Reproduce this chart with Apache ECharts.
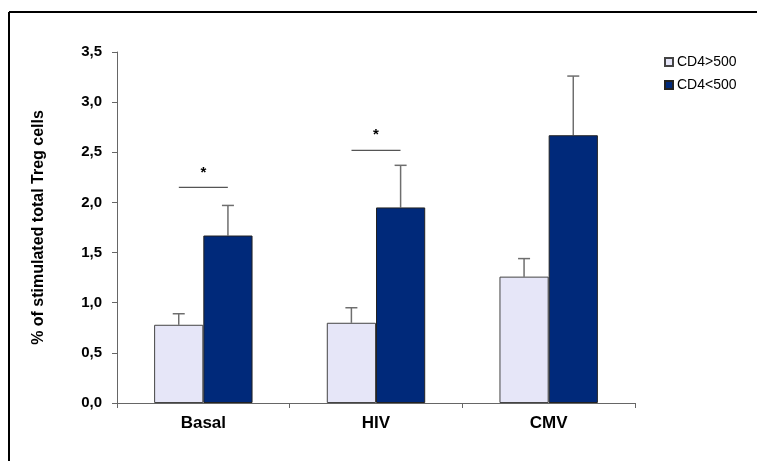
<!DOCTYPE html>
<html>
<head>
<meta charset="utf-8">
<script src="https://cdn.jsdelivr.net/npm/echarts@6/dist/echarts.min.js"></script>
<style>html,body{margin:0;padding:0;background:#fff}#c{width:757px;height:461px}</style>
</head>
<body>
<div id="c"></div>
<script>
const categories = ['Basal', 'HIV', 'CMV'];
const seriesNames = ['CD4>500', 'CD4<500'];
const highValues = [0.78, 0.80, 1.26];      // CD4>500
const highErrTop = [0.89, 0.95, 1.44];
const lowValues = [1.67, 1.95, 2.67];       // CD4<500
const lowErrTop = [1.97, 2.37, 3.26];
const sigCategories = [0, 1];
const sigLevels = [2.15, 2.52];
const sigLabels = ['*', '*'];
const yTicks = [0, 0.5, 1, 1.5, 2, 2.5, 3, 3.5];

const FONT = '"Liberation Sans", Arial, sans-serif';
const LIGHT = '#e6e6f8';
const DARK = '#00297a';
const CAT_GAP = 0.43;

function errRender(sideSign) {
  return function (params, api) {
    const base = api.coord([api.value(0), api.value(1)]);
    const top = api.coord([api.value(0), api.value(2)]);
    const band = api.size([1, 0])[0];
    const barW = band * (1 - CAT_GAP) / 2;
    const x = base[0] + sideSign * barW / 2;
    const cap = 6;
    return {
      type: 'group',
      children: [
        { type: 'line', shape: { x1: x, y1: base[1], x2: x, y2: top[1] }, style: { stroke: '#6e6e6e', lineWidth: 1.5 } },
        { type: 'line', shape: { x1: x - cap, y1: top[1], x2: x + cap, y2: top[1] }, style: { stroke: '#6e6e6e', lineWidth: 1.5 } }
      ]
    };
  };
}

const chart = echarts.init(document.getElementById('c'));
chart.setOption({
  animation: false,
  backgroundColor: '#fff',
  graphic: [
    { type: 'line', shape: { x1: 9, y1: 12, x2: 757, y2: 12 }, style: { stroke: '#000', lineWidth: 2 } },
    { type: 'line', shape: { x1: 9, y1: 12, x2: 9, y2: 461 }, style: { stroke: '#000', lineWidth: 2 } }
  ],
  grid: { left: 117, top: 52, right: 122, bottom: 58, containLabel: false },
  legend: {
    orient: 'vertical', left: 659, top: 50,
    itemWidth: 8, itemHeight: 8, itemGap: 9,
    icon: 'rect',
    textStyle: { fontFamily: FONT, fontSize: 14, color: '#000', padding: [0, 0, 0, -1] },
    data: seriesNames
  },
  xAxis: {
    type: 'category', data: categories,
    axisLine: { lineStyle: { color: '#666', width: 1 } },
    axisTick: { show: true, length: 5, lineStyle: { color: '#666' } },
    axisLabel: { margin: 12, color: '#000', fontFamily: FONT, fontWeight: 'bold', fontSize: 17 }
  },
  yAxis: {
    type: 'value', min: 0, max: 3.5, interval: 0.5,
    name: '% of stimulated total Treg cells', nameLocation: 'middle', nameGap: 70,
    nameTextStyle: { fontFamily: FONT, fontWeight: 'bold', fontSize: 16, color: '#000' },
    axisLine: { show: true, lineStyle: { color: '#666', width: 1 } },
    axisTick: { show: true, length: 5, lineStyle: { color: '#666' } },
    splitLine: { show: false },
    axisLabel: {
      margin: 15, color: '#000', fontFamily: FONT, fontWeight: 'bold', fontSize: 15,
      formatter: v => yTicks.includes(v) ? v.toFixed(1).replace('.', ',') : ''
    }
  },
  series: [
    {
      name: seriesNames[0], type: 'bar', data: highValues,
      barGap: '0%', barCategoryGap: (CAT_GAP * 100) + '%',
      itemStyle: { color: LIGHT, borderColor: '#444', borderWidth: 1 }
    },
    {
      name: seriesNames[1], type: 'bar', data: lowValues,
      barGap: '0%', barCategoryGap: (CAT_GAP * 100) + '%',
      itemStyle: { color: DARK, borderColor: '#222', borderWidth: 1 }
    },
    {
      type: 'custom', renderItem: errRender(-1), z: 1,
      data: categories.map((c, i) => [i, highValues[i], highErrTop[i]]),
      encode: { x: 0, y: [1, 2] }, silent: true
    },
    {
      type: 'custom', renderItem: errRender(1), z: 1,
      data: categories.map((c, i) => [i, lowValues[i], lowErrTop[i]]),
      encode: { x: 0, y: [1, 2] }, silent: true
    },
    {
      type: 'custom', silent: true, z: 5,
      data: sigCategories.map((c, i) => [c, sigLevels[i], sigLabels[i]]),
      encode: { x: 0, y: 1 },
      renderItem: function (params, api) {
        const p = api.coord([api.value(0), api.value(1)]);
        const half = 24.5;
        const label = sigLabels[params.dataIndex];
        return {
          type: 'group',
          children: [
            { type: 'line', shape: { x1: p[0] - half, y1: p[1], x2: p[0] + half, y2: p[1] }, style: { stroke: '#555', lineWidth: 1.2 } },
            { type: 'text', x: p[0], y: p[1] - 15, style: { text: label, fill: '#000', font: 'bold 15px ' + FONT, align: 'center', verticalAlign: 'middle' } }
          ]
        };
      }
    }
  ]
});
</script>
</body>
</html>
